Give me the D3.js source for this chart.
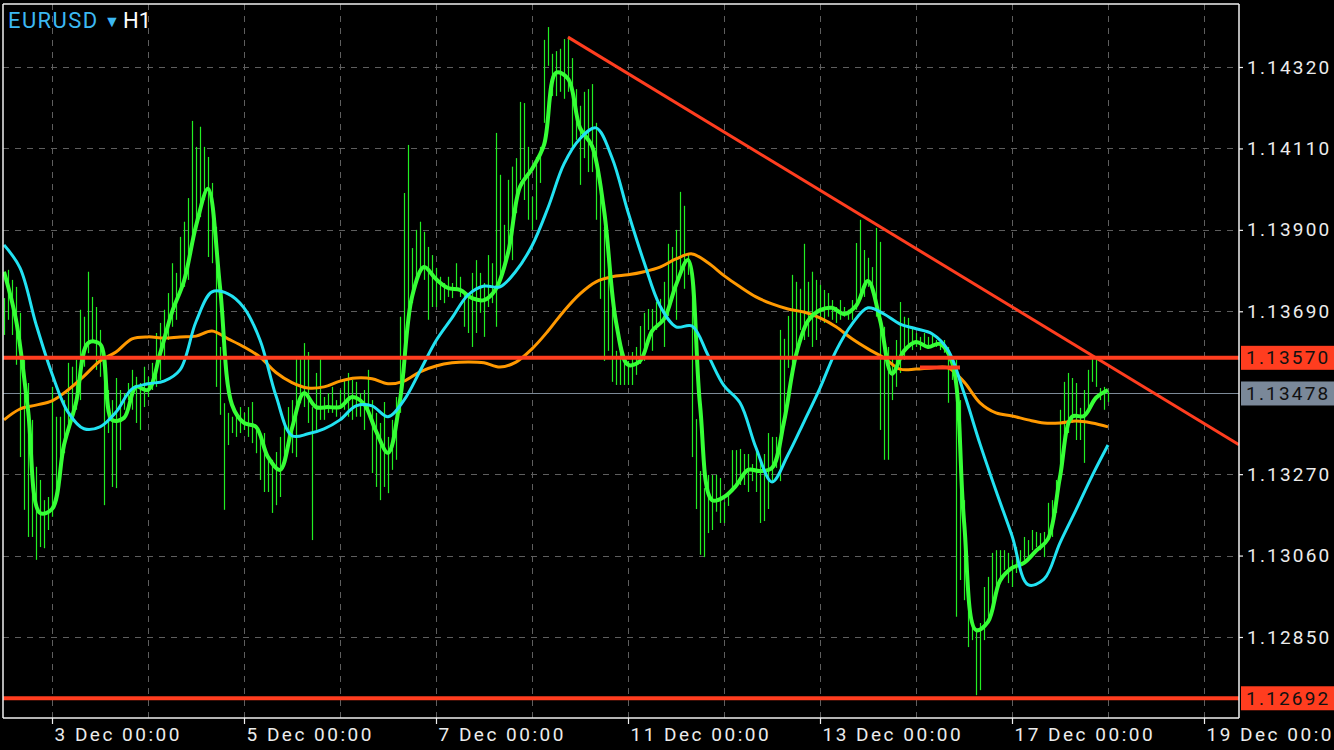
<!DOCTYPE html>
<html><head><meta charset="utf-8">
<script src="https://cdn.jsdelivr.net/npm/d3@7"></script>
<style>
html,body{margin:0;padding:0;background:#000;overflow:hidden}
svg{display:block}
</style></head><body>
<svg id="chart" width="1334" height="750"></svg>
<script>
// ---------------- DATA ----------------
const symbolName = "EURUSD";
const timeframe = "H1";

// hourly bars (index 0 = first visible bar, 3 Dec 00:00 = index 12)
const barHigh = [
1.13724,1.13797,1.13771,1.13753,1.13686,1.13565,1.13505,1.13410,1.13289,1.13255,
1.13203,1.13211,1.13495,1.13418,1.13418,1.13461,1.13557,1.13547,1.13565,1.13694,
1.13676,1.13792,1.13727,1.13701,1.13642,1.13557,1.13487,1.13461,1.13518,1.13487,
1.13479,1.13505,1.13539,1.13521,1.13505,1.13547,1.13521,1.13557,1.13634,1.13660,
1.13694,1.13737,1.13814,1.13789,1.13882,1.13921,1.13982,1.14181,1.14114,1.14166,
1.14114,1.14088,1.14021,1.13908,1.13598,1.13453,1.13428,1.13418,1.13418,1.13443,
1.13428,1.13443,1.13456,1.13384,1.13376,1.13376,1.13314,1.13307,1.13327,1.13366,
1.13410,1.13443,1.13461,1.13572,1.13572,1.13608,1.13585,1.13443,1.13531,1.13570,
1.13469,1.13479,1.13495,1.13461,1.13487,1.13513,1.13531,1.13513,1.13508,1.13479,
1.13487,1.13539,1.13461,1.13428,1.13402,1.13456,1.13366,1.13410,1.13469,1.13676,
1.13995,1.14119,1.13853,1.13900,1.13921,1.13895,1.13856,1.13835,1.13802,1.13779,
1.13763,1.13779,1.13763,1.13814,1.13779,1.13737,1.13727,1.13789,1.13822,1.13789,
1.13763,1.13835,1.13814,1.14150,1.14042,1.13913,1.14029,1.14063,1.14085,1.14230,
1.14227,1.14114,1.13985,1.14088,1.14114,1.14390,1.14423,1.14354,1.14361,1.14367,
1.14392,1.14398,1.14343,1.14263,1.14220,1.14256,1.14263,1.14276,1.14176,1.13998,
1.13908,1.13820,1.13696,1.13588,1.13588,1.13572,1.13562,1.13585,1.13598,1.13652,
1.13686,1.13696,1.13696,1.13714,1.13722,1.13766,1.13864,1.13856,1.13900,1.13998,
1.13962,1.13838,1.13784,1.13412,1.13278,1.13234,1.13268,1.13268,1.13268,1.13260,
1.13198,1.13216,1.13332,1.13332,1.13335,1.13322,1.13322,1.13296,1.13332,1.13304,
1.13322,1.13376,1.13366,1.13366,1.13642,1.13619,1.13678,1.13784,1.13766,1.13748,
1.13864,1.13766,1.13792,1.13771,1.13758,1.13745,1.13737,1.13719,1.13701,1.13719,
1.13701,1.13694,1.13719,1.13866,1.13926,1.13848,1.13828,1.13804,1.13905,1.13869,
1.13650,1.13598,1.13572,1.13616,1.13714,1.13676,1.13673,1.13650,1.13634,1.13624,
1.13634,1.13624,1.13634,1.13616,1.13616,1.13616,1.13598,1.13565,1.13565,1.13461,
1.13203,1.12997,1.12894,1.12868,1.12886,1.12979,1.13005,1.13067,1.13074,1.13074,
1.13074,1.13067,1.13049,1.13082,1.13074,1.13108,1.13100,1.13126,1.13121,1.13118,
1.13121,1.13196,1.13203,1.13255,1.13436,1.13508,1.13531,1.13518,1.13505,1.13441,
1.13487,1.13539,1.13572,1.13565,1.13492,1.13495,1.13482
];
const barLow = [
1.13629,1.13668,1.13629,1.13552,1.13314,1.13178,1.13108,1.13108,1.13049,1.13082,
1.13079,1.13126,1.13160,1.13203,1.13263,1.13324,1.13376,1.13428,1.13436,1.13461,
1.13547,1.13582,1.13616,1.13539,1.13521,1.13190,1.13376,1.13237,1.13234,1.13332,
1.13436,1.13461,1.13436,1.13402,1.13384,1.13443,1.13469,1.13487,1.13495,1.13513,
1.13565,1.13616,1.13650,1.13668,1.13737,1.13753,1.13771,1.13874,1.13900,1.13933,
1.13977,1.13830,1.13814,1.13495,1.13423,1.13178,1.13345,1.13376,1.13366,1.13376,
1.13384,1.13366,1.13350,1.13324,1.13255,1.13224,1.13224,1.13170,1.13190,1.13211,
1.13307,1.13358,1.13324,1.13314,1.13453,1.13443,1.13402,1.13100,1.13384,1.13410,
1.13410,1.13428,1.13428,1.13418,1.13443,1.13436,1.13418,1.13410,1.13418,1.13418,
1.13384,1.13436,1.13273,1.13237,1.13203,1.13237,1.13221,1.13281,1.13307,1.13428,
1.13531,1.13668,1.13711,1.13763,1.13789,1.13771,1.13668,1.13701,1.13701,1.13719,
1.13711,1.13727,1.13724,1.13745,1.13727,1.13650,1.13634,1.13598,1.13634,1.13686,
1.13624,1.13701,1.13711,1.13650,1.13771,1.13805,1.13840,1.13822,1.13943,1.14029,
1.13977,1.13926,1.13900,1.13926,1.14021,1.14176,1.14323,1.14245,1.14245,1.14256,
1.14238,1.14256,1.14114,1.14132,1.14016,1.14085,1.14049,1.14049,1.13926,1.13722,
1.13562,1.13588,1.13508,1.13500,1.13500,1.13500,1.13500,1.13500,1.13526,1.13554,
1.13562,1.13642,1.13588,1.13642,1.13660,1.13598,1.13678,1.13732,1.13668,1.13784,
1.13748,1.13784,1.13314,1.13180,1.13062,1.13056,1.13118,1.13126,1.13173,1.13144,
1.13144,1.13188,1.13224,1.13234,1.13242,1.13242,1.13224,1.13252,1.13224,1.13144,
1.13149,1.13180,1.13252,1.13286,1.13252,1.13394,1.13544,1.13554,1.13588,1.13642,
1.13616,1.13624,1.13598,1.13616,1.13668,1.13660,1.13676,1.13668,1.13660,1.13668,
1.13676,1.13668,1.13668,1.13694,1.13719,1.13727,1.13753,1.13737,1.13676,1.13384,
1.13307,1.13307,1.13461,1.13495,1.13531,1.13565,1.13598,1.13590,1.13598,1.13590,
1.13598,1.13598,1.13598,1.13598,1.13590,1.13583,1.13454,1.13513,1.12902,1.12997,
1.12945,1.12824,1.12842,1.12700,1.12713,1.12842,1.12902,1.12920,1.12964,1.12997,
1.13023,1.12989,1.12979,1.13015,1.13031,1.13049,1.13056,1.13074,1.13082,1.13074,
1.13056,1.13100,1.13108,1.13170,1.13255,1.13350,1.13376,1.13402,1.13358,1.13358,
1.13299,1.13428,1.13508,1.13495,1.13461,1.13436,1.13456
];

// fast moving average (green), read every 3 bars
const fastStep = 3;
const fastMA = [
1.13792,1.13668,1.13436,1.13170,1.13180,1.13345,1.13454,1.13608,1.13606,1.13410,
1.13415,1.13495,1.13487,1.13580,1.13688,1.13768,1.13910,1.14006,1.13753,1.13449,
1.13402,1.13392,1.13314,1.13281,1.13389,1.13479,1.13443,1.13443,1.13443,1.13469,
1.13451,1.13381,1.13325,1.13461,1.13727,1.13804,1.13773,1.13750,1.13745,1.13724,
1.13719,1.13748,1.13840,1.14011,1.14057,1.14119,1.14305,1.14290,1.14163,1.14116,
1.13951,1.13663,1.13552,1.13562,1.13639,1.13670,1.13758,1.13822,1.13449,1.13203,
1.13211,1.13240,1.13281,1.13278,1.13286,1.13405,1.13577,1.13665,1.13693,1.13699,
1.13683,1.13704,1.13768,1.13668,1.13529,1.13588,1.13611,1.13598,1.13606,1.13559,
1.13149,1.12868,1.12889,1.12995,1.13028,1.13041,1.13072,1.13103,1.13263,1.13418,
1.13420,1.13467,1.13487
];

// medium (cyan) and slow (orange) moving averages, read every 4 bars
const maStep = 4;
const midMA = [
1.13861,1.13802,1.13657,1.13529,1.13430,1.13387,1.13392,1.13430,1.13490,1.13503,
1.13510,1.13539,1.13663,1.13740,1.13735,1.13699,1.13616,1.13472,1.13369,1.13374,
1.13387,1.13410,1.13446,1.13446,1.13418,1.13461,1.13536,1.13614,1.13673,1.13732,
1.13755,1.13753,1.13794,1.13859,1.13957,1.14070,1.14135,1.14163,1.14086,1.13946,
1.13817,1.13704,1.13650,1.13652,1.13577,1.13498,1.13454,1.13338,1.13250,1.13320,
1.13405,1.13492,1.13588,1.13657,1.13699,1.13683,1.13657,1.13645,1.13632,1.13590,
1.13479,1.13348,1.13227,1.13111,1.12985,1.12999,1.13093,1.13178,1.13265,1.13345
];
const slowMA = [
1.13410,1.13438,1.13448,1.13459,1.13487,1.13523,1.13562,1.13585,1.13619,1.13624,
1.13621,1.13624,1.13626,1.13639,1.13619,1.13598,1.13572,1.13532,1.13506,1.13492,
1.13495,1.13510,1.13518,1.13516,1.13503,1.13510,1.13534,1.13549,1.13557,1.13559,
1.13557,1.13546,1.13559,1.13593,1.13639,1.13691,1.13735,1.13766,1.13779,1.13784,
1.13792,1.13804,1.13825,1.13838,1.13815,1.13782,1.13753,1.13727,1.13709,1.13696,
1.13688,1.13673,1.13650,1.13619,1.13593,1.13570,1.13541,1.13541,1.13544,1.13544,
1.13508,1.13454,1.13428,1.13420,1.13410,1.13402,1.13402,1.13407,1.13402,1.13392
];

// axis ticks
const xTickIdx = [12, 60, 108, 156, 204, 252, 300];
const xTickLabels = ["3 Dec 00:00","5 Dec 00:00","7 Dec 00:00","11 Dec 00:00","13 Dec 00:00","17 Dec 00:00","19 Dec 00:00"];
const xGridIdx = [12,36,60,84,108,132,156,180,204,228,252,276,300];
const yGridTicks = [1.12850,1.13060,1.13270,1.13480,1.13690,1.13900,1.14110,1.14320];
const yLabelTicks = [1.12850,1.13060,1.13270,1.13690,1.13900,1.14110,1.14320];

// drawn objects
const levelPrices = [1.13570, 1.12692];
const currentPrice = 1.13478;
const segPrice = 1.13545;
const segIdx = [229, 239];
const trendIdx = [141, 276];
const trendPrice = [1.14397, 1.13551];

// ---------------- DRAW ----------------
const W = 1334, H = 750;
const P = {left: 3, top: 4, right: 1239, bottom: 718};
const FONT = "Roboto, 'Liberation Sans', Arial, sans-serif";

const x = d3.scaleLinear().domain([0, 300]).range([4, 1204]);
const y = d3.scaleLinear().domain([1.12850, 1.14320]).range([637, 67]);

const svg = d3.select("#chart");
svg.append("rect").attr("width", W).attr("height", H).attr("fill", "#000");

svg.append("defs").append("clipPath").attr("id", "clip")
  .append("rect").attr("x", P.left).attr("y", P.top)
  .attr("width", P.right - P.left).attr("height", P.bottom - P.top);

const plot = svg.append("g").attr("clip-path", "url(#clip)");

// grid
plot.append("g").selectAll("line").data(xGridIdx).join("line")
  .attr("x1", d => Math.round(x(d)) + 0.5).attr("x2", d => Math.round(x(d)) + 0.5)
  .attr("y1", P.top).attr("y2", P.bottom)
  .attr("stroke", "#5e5e5e").attr("stroke-width", 1).attr("stroke-dasharray", "6,6");
plot.append("g").selectAll("line").data(yGridTicks).join("line")
  .attr("x1", P.left).attr("x2", P.right)
  .attr("y1", d => Math.round(y(d)) + 0.5).attr("y2", d => Math.round(y(d)) + 0.5)
  .attr("stroke", "#5e5e5e").attr("stroke-width", 1).attr("stroke-dasharray", "6,6");

// current price line
plot.append("line")
  .attr("x1", P.left).attr("x2", P.right)
  .attr("y1", Math.round(y(currentPrice)) + 0.5).attr("y2", Math.round(y(currentPrice)) + 0.5)
  .attr("stroke", "#7d8a98").attr("stroke-width", 1.2);

// bars
plot.append("g").selectAll("line").data(barHigh).join("line")
  .attr("x1", (d, i) => Math.round(x(i)) + 0.5).attr("x2", (d, i) => Math.round(x(i)) + 0.5)
  .attr("y1", d => y(d)).attr("y2", (d, i) => y(barLow[i]))
  .attr("stroke", "#22ee22").attr("stroke-width", 1.2);

// moving averages
function maLine(arr, step) {
  return d3.line().x((d, i) => x(i * step)).y(d => y(d)).curve(d3.curveCatmullRom.alpha(0.5))(arr);
}
plot.append("path").attr("d", maLine(slowMA, maStep)).attr("fill", "none")
  .attr("stroke", "#ff9900").attr("stroke-width", 3).attr("stroke-linejoin", "round");
plot.append("path").attr("d", maLine(fastMA, fastStep)).attr("fill", "none")
  .attr("stroke", "#36ff36").attr("stroke-width", 4).attr("stroke-linejoin", "round");
plot.append("path").attr("d", maLine(midMA, maStep)).attr("fill", "none")
  .attr("stroke", "#22e2f2").attr("stroke-width", 3).attr("stroke-linejoin", "round");

// horizontal levels
plot.append("g").selectAll("line").data(levelPrices).join("line")
  .attr("x1", P.left).attr("x2", P.right)
  .attr("y1", d => y(d)).attr("y2", d => y(d))
  .attr("stroke", "#ff3d1f").attr("stroke-width", 4);
plot.append("line")
  .attr("x1", x(segIdx[0])).attr("x2", x(segIdx[1]))
  .attr("y1", y(segPrice)).attr("y2", y(segPrice))
  .attr("stroke", "#ff3d1f").attr("stroke-width", 4);

// trend line (ray to the right edge)
const slope = (trendPrice[1] - trendPrice[0]) / (trendIdx[1] - trendIdx[0]);
const endIdx = x.invert(P.right);
plot.append("line")
  .attr("x1", x(trendIdx[0])).attr("y1", y(trendPrice[0]))
  .attr("x2", x(endIdx)).attr("y2", y(trendPrice[0] + slope * (endIdx - trendIdx[0])))
  .attr("stroke", "#ff3d1f").attr("stroke-width", 3);

// frame
const frame = svg.append("g").attr("stroke", "#f0f0f0").attr("stroke-width", 1.5);
frame.append("line").attr("x1", P.left).attr("x2", P.left).attr("y1", P.top).attr("y2", P.bottom);
frame.append("line").attr("x1", P.left).attr("x2", P.right).attr("y1", P.top).attr("y2", P.top);

// right axis
const yAxis = svg.append("g").attr("transform", `translate(${P.right},0)`)
  .call(d3.axisRight(y).tickValues(yLabelTicks).tickFormat(d3.format(".5f")).tickSize(4).tickPadding(4));
yAxis.select(".domain").remove();
yAxis.append("line").attr("x1", 0).attr("x2", 0).attr("y1", P.top).attr("y2", P.bottom)
  .attr("stroke", "#f0f0f0").attr("stroke-width", 1.5);
yAxis.selectAll(".tick line").attr("stroke", "#f0f0f0").attr("stroke-width", 1.2);
yAxis.selectAll(".tick text").attr("fill", "#ececec").attr("font-family", FONT)
  .attr("font-size", 19).attr("letter-spacing", "2.2px");

// bottom axis
const xAxis = svg.append("g").attr("transform", `translate(0,${P.bottom})`)
  .call(d3.axisBottom(x).tickValues(xTickIdx).tickFormat((d, i) => xTickLabels[i]).tickSize(6).tickPadding(4));
xAxis.select(".domain").remove();
xAxis.append("line").attr("x1", P.left).attr("x2", P.right).attr("y1", 0).attr("y2", 0)
  .attr("stroke", "#f0f0f0").attr("stroke-width", 1.5);
xAxis.selectAll(".tick line").attr("stroke", "#f0f0f0").attr("stroke-width", 1.2);
xAxis.selectAll(".tick text").attr("fill", "#ececec").attr("font-family", FONT)
  .attr("font-size", 19).attr("letter-spacing", "2.5px").attr("text-anchor", "start").attr("x", 2);

// price boxes
const boxes = [
  {p: levelPrices[0], fill: "#ff3d1f"},
  {p: currentPrice, fill: "#7a8899"},
  {p: levelPrices[1], fill: "#ff3d1f"}
];
const bx = svg.append("g");
boxes.forEach(b => {
  bx.append("rect").attr("x", P.right + 2).attr("y", y(b.p) - 12).attr("width", W - P.right - 2).attr("height", 24)
    .attr("fill", b.fill);
  bx.append("text").attr("x", P.right + 7).attr("y", y(b.p)).attr("dy", "0.35em")
    .attr("fill", "#111").attr("font-family", FONT).attr("font-size", 19).attr("letter-spacing", "2.2px")
    .text(d3.format(".5f")(b.p));
});

// title
const title = svg.append("text").attr("y", 28).attr("font-family", FONT).attr("font-size", 22);
title.append("tspan").attr("x", 8).attr("fill", "#3cb8f2").attr("letter-spacing", "1.4px").text(symbolName);
title.append("tspan").attr("x", 104).attr("fill", "#3cb8f2").attr("font-size", 16).attr("dy", -1).text("▼");
title.append("tspan").attr("x", 123).attr("fill", "#ffffff").attr("dy", 1).text(timeframe);
</script>
</body></html>
